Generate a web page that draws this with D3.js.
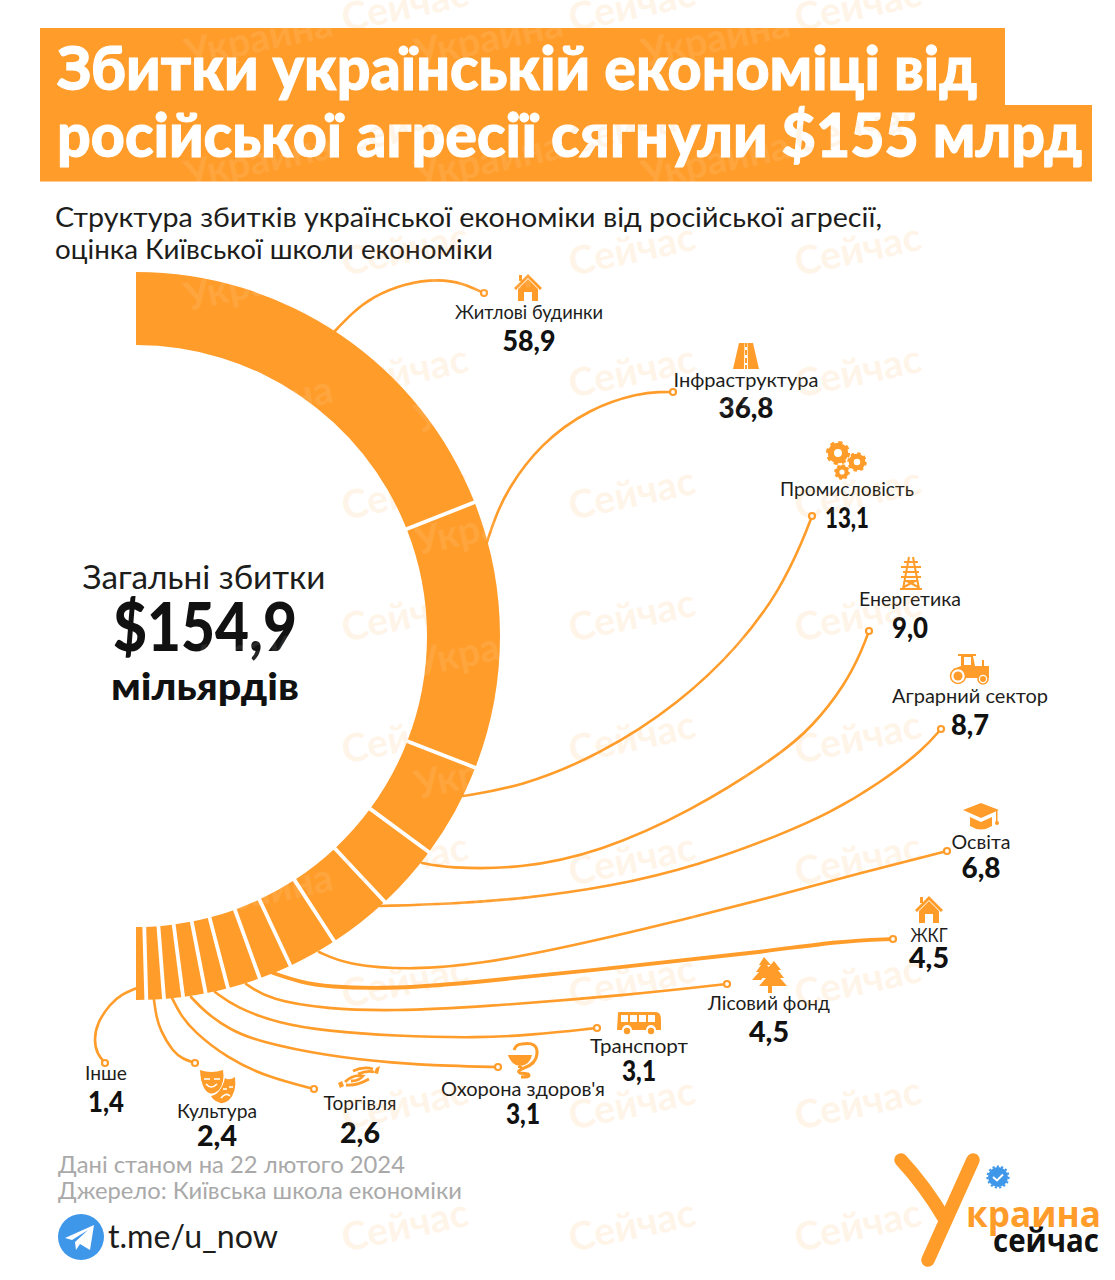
<!DOCTYPE html>
<html><head><meta charset="utf-8">
<script src="https://cdn.jsdelivr.net/npm/d3@7/dist/d3.min.js"></script>
<style>html,body{margin:0;padding:0;background:#fff}svg{display:block}text{font-family:Lato,"Noto Sans",sans-serif}</style>
</head><body><svg id="c" width="1115" height="1280"></svg>
<script>
const categories=["Житлові будинки","Інфраструктура","Промисловість","Енергетика","Аграрний сектор","Освіта","ЖКГ","Лісовий фонд","Транспорт","Охорона здоров'я","Торгівля","Культура","Інше"];
const values=[58.9,36.8,13.1,9.0,8.7,6.8,4.5,4.5,3.1,3.1,2.6,2.4,1.4];
const titleLines=["Збитки українській економіці від","російської агресії сягнули $155 млрд"];
const subtitleLines=["Структура збитків української економіки від російської агресії,","оцінка Київської школи економіки"];
const footerLines=["Дані станом на 22 лютого 2024","Джерело: Київська школа економіки"];

// label placement: [name centre x, name baseline, name width, value baseline, value width]
const labelLayout=[[529,319,148,351,53],[746,387,145,418,55],[847,496,134,528,44],[910,606,102,638,36],[970,703,156,735,38],[981,849,59,878,39],[929,942,37,968,40],[769,1010,122,1042,40],[639,1053,98,1081,34],[523,1096,164,1124,34],[360,1110,73,1143,40],[217,1118,80,1146,40],[106,1080,42,1112,36]];
// leader routes
const leaders=[
[[335,331],[352,313],[372,297],[405,283],[440,279],[462,283],[484,293]],
[[487,542],[495,518],[507,490],[540,444],[590,408],[640,393],[660,392],[673,392]],
[[463,796],[520,787],[600,755],[680,703],[740,645],[780,590],[803,540],[812,516]],
[[422,863],[447,868],[520,869],[600,852],[690,812],[780,755],[813,726],[845,685],[862,650],[869,631]],
[[380,906],[450,904],[520,899],[610,887],[700,865],[780,835],[830,813],[880,783],[923,750],[941,729]],
[[319,952],[347,965],[413,970],[480,964],[563,948],[670,923],[780,895],[860,873],[947,851]],
[[273,973],[300,982],[327,987],[393,989],[480,982],[630,966],[763,952],[840,941],[893,939]],
[[246,984],[270,1000],[327,1009],[393,1011],[480,1007],[630,995],[727,984]],
[[215,992],[235,1007],[280,1024],[327,1031],[393,1036],[480,1038],[530,1035],[597,1028]],
[[191,997],[205,1012],[230,1030],[260,1042],[327,1056],[393,1063],[450,1066],[498,1067]],
[[172,998],[180,1014],[193,1031],[227,1058],[267,1077],[314,1089]],
[[154,1000],[156,1015],[160,1030],[173,1052],[183,1059],[195,1063]],
[[137,988],[122,994],[110,1004],[97,1023],[94,1040],[97,1054],[105,1063]]];
const leaderWidths=[2.6,2.6,2.6,2.6,2.6,2.6,3.8,2.6,2.6,2.6,2.6,2.6,2.6];

const ORANGE="#ff9c2a",INK="#1d1d1b",GREY="#a9a9a9",BLUE="#3f97ea";
const svg=d3.select("#c");
const fmt=d3.formatLocale({decimal:",",thousands:" ",grouping:[3],currency:["$",""]}).format(".1f");
const total=d3.sum(values);
const cx=136,cy=636,R=364,r=291;

// title band
svg.append("rect").attr("x",40).attr("y",28).attr("width",965).attr("height",80).attr("fill",ORANGE);
svg.append("rect").attr("x",40).attr("y",105).attr("width",1052).attr("height",76.5).attr("fill",ORANGE);
const txt=(s,x,y,size,weight,fill,anchor,len)=>{const t=svg.append("text").attr("x",x).attr("y",y).attr("font-size",size).attr("font-weight",weight).attr("fill",fill).attr("text-anchor",anchor||"start").text(s);
 if(len)t.attr("textLength",len).attr("lengthAdjust","spacingAndGlyphs");return t;};
txt(titleLines[0],57,90,60,900,"#fff","start",920).attr("stroke","#fff").attr("stroke-width",1);
txt(titleLines[1],57,157,60,900,"#fff","start",1025).attr("stroke","#fff").attr("stroke-width",1);
txt(subtitleLines[0],55,227,27,400,INK,"start",827);
txt(subtitleLines[1],55,259,27,400,INK,"start",438);

// half donut
const pie=d3.pie().sort(null).startAngle(0).endAngle(Math.PI)(values);
const arc=d3.arc().innerRadius(r).outerRadius(R);
const g=svg.append("g").attr("transform",`translate(${cx},${cy})`);
g.selectAll("path").data(pie).join("path").attr("d",arc).attr("fill",ORANGE);
g.selectAll("line").data(pie.slice(0,-1)).join("line")
 .attr("x1",d=>(r-2)*Math.sin(d.endAngle)).attr("y1",d=>-(r-2)*Math.cos(d.endAngle))
 .attr("x2",d=>(R+2)*Math.sin(d.endAngle)).attr("y2",d=>-(R+2)*Math.cos(d.endAngle))
 .attr("stroke","#fff").attr("stroke-width",3.8);

// leaders
const line=d3.line().curve(d3.curveBasis);
svg.append("g").selectAll("path").data(leaders).join("path").attr("d",line).attr("fill","none").attr("stroke",ORANGE).attr("stroke-width",(d,i)=>leaderWidths[i]).attr("stroke-linecap","round");
svg.append("g").selectAll("circle").data(leaders).join("circle").attr("cx",d=>d[d.length-1][0]).attr("cy",d=>d[d.length-1][1]).attr("r",3).attr("fill","#fff").attr("stroke",ORANGE).attr("stroke-width",2.2);

// labels
categories.forEach((c,i)=>{const l=labelLayout[i];
 txt(c,l[0],l[1],19,400,INK,"middle",l[2]);
 txt(fmt(values[i]),l[0],l[3],29,900,"#111","middle",l[4]);
});

// centre
txt("Загальні збитки",204,589,32,400,INK,"middle",243);
txt("$"+fmt(total),205,651,66,900,"#111","middle",184);
txt("мільярдів",205,700,37,900,"#111","middle",188);

// footer
txt(footerLines[0],58,1173,24,400,GREY,"start",347);
txt(footerLines[1],58,1199,24,400,GREY,"start",404);
svg.append("circle").attr("cx",81).attr("cy",1237).attr("r",23).attr("fill",BLUE);
svg.append("path").attr("transform","translate(81,1237)").attr("fill","#fff").attr("d","M-16,1 L13,-12 L9,13 L-1,7 L-5,13 L-6,5 L7,-7 L-9,3 Z");
txt("t.me/u_now",108,1248,33,400,INK,"start",170);

// logo
svg.append("g").attr("fill","none").attr("stroke",ORANGE).attr("stroke-linecap","round").attr("stroke-width",13.5).selectAll("path").data(["M901,1160 Q925,1186 944,1218","M973,1160 Q955,1200 928,1260"]).join("path").attr("d",d=>d);
svg.append("circle").attr("cx",998).attr("cy",1177).attr("r",10).attr("fill",BLUE);
svg.append("circle").attr("cx",998).attr("cy",1177).attr("r",10.6).attr("fill","none").attr("stroke",BLUE).attr("stroke-width",2).attr("stroke-dasharray","2.2 2.2");
svg.append("path").attr("d","M993,1177 l4,3.5 l6,-6").attr("fill","none").attr("stroke","#fff").attr("stroke-width",2);
txt("краина",966,1227,36,700,ORANGE,"start",135).style("font-family","'Open Sans'");
txt("сейчас",993,1252,33,700,"#111","start",106).style("font-family","'Open Sans'");

// icons
const icon=(x,y,s)=>svg.append("g").attr("transform",`translate(${x},${y}) scale(${s||1})`).attr("fill",ORANGE);
const house=(x,y)=>{const h=icon(x,y);
 h.append("path").attr("d","M-14,1 L0,-13 L14,1 L12,3 L0,-9 L-12,3 Z");h.append("rect").attr("x",-9).attr("y",-12).attr("width",3).attr("height",6);
 h.append("path").attr("d","M-10,2 L0,-8 L10,2 L10,14 L4,14 L4,5 L-4,5 L-4,14 L-10,14 Z");};
house(528,287);house(929,909);
// road
{const h=icon(746,356);h.append("path").attr("d","M-7,-13 L-1.5,-13 L-2,13 L-13,13 Z M1.5,-13 L7,-13 L13,13 L2,13 Z");h.append("path").attr("d","M-1,-13 h2 v4 h-2Z M-1,-6 h2 v5 h-2Z M-1,2 h2 v5 h-2Z M-1,9 h2 v4 h-2Z");}
// gears
[[838,453,10.5],[857,462,8.5],[842,472,6.8]].forEach(([x,y,q])=>{
 svg.append("circle").attr("cx",x).attr("cy",y).attr("r",q*.68).attr("fill","none").attr("stroke",ORANGE).attr("stroke-width",q*.6);
 svg.append("circle").attr("cx",x).attr("cy",y).attr("r",q*.98).attr("fill","none").attr("stroke",ORANGE).attr("stroke-width",q*.34).attr("stroke-dasharray",`${q*.385} ${q*.385}`);});
// pylon
{const h=svg.append("g").attr("transform","translate(911,573)").attr("fill","none").attr("stroke",ORANGE).attr("stroke-width",2);
 h.append("path").attr("d","M-2,-16 L-8,16 M2,-16 L8,16 M-11,16 L11,16 M-7,-11 L7,-11 M-10,-6 L10,-6 M-8,-1 L8,-1 M-10,4 L10,4 M-6,8 L6,8 M-7,14 L4,8 M7,14 L-4,8");}
// tractor
{const h=icon(970,670);h.append("path").attr("d","M-12,-16 L6,-16 L6,-14 L3,-14 L5,-4 L19,-4 L19,8 L-15,8 L-17,-1 L-9,-4 L-9,-14 L-12,-14 Z");h.append("path").attr("d","M12,-4 L12,-10 L14,-10 L14,-4Z");
 h.append("rect").attr("x",-6).attr("y",-13).attr("width",7).attr("height",8).attr("fill","#fff");
 [[-12,6,7.5],[13,9,5]].forEach(([a,b,q])=>{h.append("circle").attr("cx",a).attr("cy",b).attr("r",q).attr("fill","#fff").attr("stroke",ORANGE).attr("stroke-width",1.6);h.append("circle").attr("cx",a).attr("cy",b).attr("r",q*.6);});}
// cap
{const h=icon(981,817);h.append("path").attr("d","M-18,-7 L0,-14 L18,-7 L0,1 Z M-11,0 L0,5 L11,0 L11,9 Q0,16 -11,9 Z");h.append("path").attr("d","M15,-6 h1.5 v11 h-1.5Z");h.append("circle").attr("cx",16).attr("cy",6).attr("r",2);}
// trees
{const h=icon(769,975);h.append("path").attr("d","M-5,-18 L2,-10 L-2,-10 L4,-3 L-2,-3 L-8,5 L-17,5 L-10,-3 L-13,-3 L-8,-10 L-10,-10 Z");
 h.append("path").attr("d","M5,-14 L12,-5 L9,-5 L15,3 L11,3 L18,11 L3,11 L3,18 L-1,18 L-1,11 L-10,11 L-3,3 L-7,3 L-1,-5 L-3,-5 Z");}
// bus
{const h=icon(639,1023);h.append("path").attr("d","M-21,-10 Q-22,-11 -19,-11 L17,-11 Q22,-11 22,-3 L22,7 L17,7 A5,5 0 0 0 7,7 L-7,7 A5,5 0 0 0 -17,7 L-22,7 Z");
 [-18,-9,0,9].forEach(a=>h.append("rect").attr("x",a).attr("y",-8).attr("width",7).attr("height",7).attr("fill","#fff"));
 [-12,12].forEach(a=>h.append("circle").attr("cx",a).attr("cy",8).attr("r",3.2));}
// bowl of Hygieia
{const h=icon(523,1059);h.append("path").attr("d","M-15,-4 L9,-4 Q7,6 -3,7 Q-12,6 -15,-4 Z M-5,7 h4 v2 h-4Z");
 h.append("path").attr("d","M-1,-15 Q15,-18 14,-5 Q13,5 1,9 Q-7,12 -3,14 L5,15 Q9,18 -2,18 M-9,-9 Q-7,-15 -1,-15").attr("fill","none").attr("stroke",ORANGE).attr("stroke-width",3);}
// handshake
{const h=icon(359,1077);h.append("path").attr("d","M-21,6 L-17,4 L-15,9 L-19,11 Z M21,-11 L17,-9 L15,-4 L19,-3 Z");
 h.append("path").attr("d","M-14,5 Q-6,-3 4,-1 Q0,4 -8,4 M-13,8 Q-2,9 10,2 M14,-8 Q5,-11 -6,-6 M15,-5 Q8,-7 -1,-3").attr("fill","none").attr("stroke",ORANGE).attr("stroke-width",2.8);}
// masks
{const h=icon(217,1086);h.append("path").attr("d","M-17,-16 Q-6,-12 6,-16 Q8,-4 2,4 Q-4,9 -8,7 Q-16,3 -17,-16 Z");
 h.append("path").attr("d","M8,-8 Q12,-5 18,-9 Q20,6 12,14 Q6,19 1,16 Q-4,14 -6,10 Q4,8 8,-8 Z");
 h.append("path").attr("d","M-13,-7 h6 M-3,-7 h6 M-11,-2 Q-6,4 0,-2 M6,3 h4 M12,1 h4 M4,12 Q9,6 13,10").attr("fill","none").attr("stroke","#fff").attr("stroke-width",1.6);}

// watermark tiles
const wmC=[345,572,798],wmRows=[32,154,276,398,520,642,764,886,1008,1130,1252];
const wm=svg.append("g").attr("pointer-events","none");
wmRows.forEach(y=>wmC.forEach(x=>wm.append("text").attr("transform",`translate(${x},${y}) rotate(-12)`).attr("font-size",39).attr("font-weight",700).attr("fill",ORANGE).attr("opacity",.1).text("Сейчас")));
[188,418,645].forEach(x=>[67,189,311,433,555,677,799,921].forEach(y=>wm.append("text").attr("transform",`translate(${x},${y}) rotate(-12)`).attr("font-size",39).attr("font-weight",700).attr("fill","#fff").attr("opacity",.09).text("Украина")));
</script></body></html>
